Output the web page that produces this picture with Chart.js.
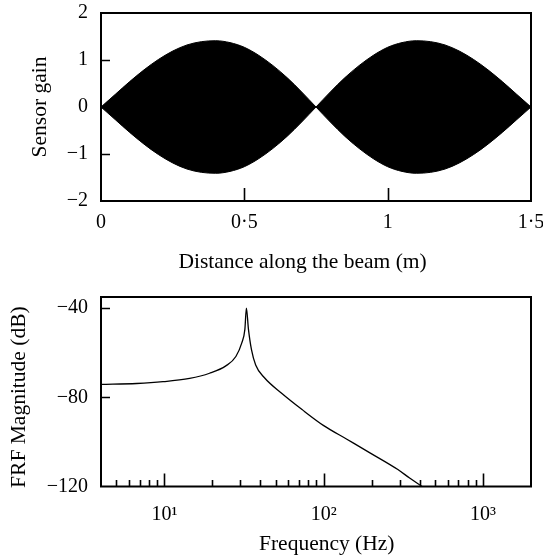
<!DOCTYPE html>
<html>
<head>
<meta charset="utf-8">
<script src="https://cdn.jsdelivr.net/npm/chart.js@4.4.1/dist/chart.umd.min.js"></script>
<style>
  html, body { margin: 0; padding: 0; background: #fff; }
  #wrap { position: relative; width: 543px; height: 557px; }
  canvas { position: absolute; left: 0; display: block; }
  #gainChart { top: 0; }
  #frfChart { top: 280px; }
</style>
</head>
<body>
<div id="wrap">
  <canvas id="gainChart" width="543" height="280"></canvas>
  <canvas id="frfChart" width="543" height="277"></canvas>
</div>
<script>
// Sensor gain envelope along the beam
const distanceM = [0, 0.05, 0.10, 0.15, 0.20, 0.25, 0.30, 0.35, 0.40, 0.45, 0.50, 0.55, 0.60, 0.65, 0.70, 0.75,
                   0.80, 0.85, 0.90, 0.95, 1.00, 1.05, 1.10, 1.15, 1.20, 1.25, 1.30, 1.35, 1.40, 1.45, 1.50];
const gainUpper = [0, 0.27, 0.54, 0.79, 1.01, 1.19, 1.32, 1.39, 1.41, 1.37, 1.27, 1.10, 0.88, 0.62, 0.32, 0,
                   0.32, 0.62, 0.88, 1.10, 1.27, 1.37, 1.41, 1.39, 1.32, 1.19, 1.01, 0.79, 0.54, 0.27, 0];
const gainLower = [0, -0.27, -0.54, -0.79, -1.01, -1.19, -1.32, -1.39, -1.41, -1.37, -1.27, -1.10, -0.88, -0.62, -0.32, 0,
                   -0.32, -0.62, -0.88, -1.10, -1.27, -1.37, -1.41, -1.39, -1.32, -1.19, -1.01, -0.79, -0.54, -0.27, 0];
const distanceTicks = [0, 0.5, 1, 1.5];
const gainTicks = [-2, -1, 0, 1, 2];

// Frequency response function magnitude
const freqHz = [4, 6.7, 9.8, 14.4, 19.2, 24.3, 28.1, 30.6, 32, 32.7, 33.7, 35.2, 37.4, 42.2, 54.9, 73.1,
                100, 139.7, 195, 292, 346, 415];
const frfDb = [-74.2, -73.8, -73.0, -71.5, -69.2, -65.9, -61.7, -55.6, -49.5, -40.0, -49.5, -58.6, -65.5, -71.0, -78.4, -85.5,
               -92.7, -98.8, -104.9, -112.4, -116.2, -120];
const freqTicks = [5, 6, 7, 8, 9, 10, 20, 30, 40, 50, 60, 70, 80, 90, 100,
                   200, 300, 400, 500, 600, 700, 800, 900, 1000];
const freqTickLabels = { 10: '10\u00B9', 100: '10\u00B2', 1000: '10\u00B3' };
const dbTicks = [-120, -80, -40];

const SERIF = "'Liberation Serif', 'Times New Roman', serif";
Chart.defaults.font.family = SERIF;
Chart.defaults.color = '#000';

const tickFont = { family: SERIF, size: 20 };
const titleFont = { family: SERIF, size: 21.5 };

// Closed frame around the plot area with inward-pointing tick marks
const framePlugin = {
  id: 'frame',
  afterDatasetsDraw(chart, args, opts) {
    const { ctx, chartArea: a, scales } = chart;
    ctx.save();
    ctx.strokeStyle = '#000';
    ctx.lineWidth = 1.6;
    ctx.beginPath();
    scales.x.ticks.forEach(t => {
      const px = Math.round(scales.x.getPixelForValue(t.value)) + 0.5;
      if (px <= a.left + 2 || px >= a.right - 2) return;
      const len = t.major ? opts.xMajor : opts.xMinor;
      ctx.moveTo(px, a.bottom);
      ctx.lineTo(px, a.bottom - len);
    });
    scales.y.ticks.forEach(t => {
      const py = Math.round(scales.y.getPixelForValue(t.value)) + 0.5;
      if (py <= a.top + 2 || py >= a.bottom - 2) return;
      ctx.moveTo(a.left, py);
      ctx.lineTo(a.left + opts.yLen, py);
    });
    ctx.stroke();
    ctx.lineWidth = 2;
    ctx.strokeRect(a.left, a.top, a.right - a.left, a.bottom - a.top);
    ctx.restore();
  }
};

const minus = v => String(v).replace('-', '\u2212');

// Fixed axis boxes so the plot area depends only on layout padding
const fixHeight = h => s => { s.height = h; s.paddingLeft = 0; s.paddingRight = 0; };
const fixWidth = w => s => { s.width = w; s.paddingTop = 0; s.paddingBottom = 0; };

function lobe(from, to, values) {
  const pts = [];
  for (let i = from; i <= to; i++) pts.push({ x: distanceM[i], y: values[i] });
  return pts;
}

const lobeStyle = {
  borderColor: '#000',
  backgroundColor: '#000',
  borderWidth: 1,
  pointRadius: 0,
  cubicInterpolationMode: 'monotone'
};

const noGrid = { display: false, drawTicks: false };

new Chart(document.getElementById('gainChart'), {
  type: 'line',
  data: {
    datasets: [
      { ...lobeStyle, data: lobe(0, 15, gainUpper), fill: '+1' },
      { ...lobeStyle, data: lobe(0, 15, gainLower), fill: false },
      { ...lobeStyle, data: lobe(15, 30, gainUpper), fill: '+1' },
      { ...lobeStyle, data: lobe(15, 30, gainLower), fill: false }
    ]
  },
  options: {
    responsive: false,
    animation: false,
    layout: { padding: { top: 13, right: 12, left: 0, bottom: 0 } },
    plugins: {
      legend: { display: false },
      tooltip: { enabled: false },
      frame: { xMajor: 13, xMinor: 13, yLen: 9 }
    },
    scales: {
      x: {
        type: 'linear',
        min: 0, max: 1.5,
        grid: noGrid,
        border: { display: false },
        afterBuildTicks: s => { s.ticks = distanceTicks.map(v => ({ value: v, major: true })); },
        afterFit: fixHeight(79),
        ticks: {
          font: tickFont, padding: 10, maxRotation: 0, autoSkip: false,
          callback: v => String(v).replace('.', '\u00B7')
        },
        // trailing spaces set the title slightly left of the plot centre
        title: { display: true, text: 'Distance along the beam (m)     ', font: titleFont, padding: { top: 0, bottom: 5 } }
      },
      y: {
        min: -2, max: 2,
        grid: noGrid,
        border: { display: false },
        afterBuildTicks: s => { s.ticks = gainTicks.map(v => ({ value: v })); },
        afterFit: fixWidth(101),
        ticks: { font: tickFont, padding: 13, callback: v => minus(v) },
        title: { display: true, text: 'Sensor gain', font: titleFont, padding: { top: 27, bottom: 0 } }
      }
    }
  },
  plugins: [framePlugin]
});

new Chart(document.getElementById('frfChart'), {
  type: 'line',
  data: {
    datasets: [{
      data: freqHz.map((f, i) => ({ x: f, y: frfDb[i] })),
      borderColor: '#000',
      borderWidth: 1.3,
      pointRadius: 0,
      fill: false,
      cubicInterpolationMode: 'monotone'
    }]
  },
  options: {
    responsive: false,
    animation: false,
    layout: { padding: { top: 17, right: 12, left: 0, bottom: 0 } },
    plugins: {
      legend: { display: false },
      tooltip: { enabled: false },
      frame: { xMajor: 13, xMinor: 6.5, yLen: 9 }
    },
    scales: {
      x: {
        type: 'logarithmic',
        min: 4, max: 2000,
        grid: noGrid,
        border: { display: false },
        afterBuildTicks: s => {
          s.ticks = freqTicks.map(v => ({ value: v, major: v in freqTickLabels }));
        },
        afterFit: fixHeight(70.5),
        ticks: {
          font: tickFont, padding: 16.5, maxRotation: 0, autoSkip: false,
          callback: v => freqTickLabels[v] || ''
        },
        // leading spaces set the title slightly right of the plot centre
        title: { display: true, text: '    Frequency (Hz)', font: titleFont, padding: { top: 0, bottom: 0 } }
      },
      y: {
        min: -120, max: -35,
        grid: noGrid,
        border: { display: false },
        afterBuildTicks: s => { s.ticks = dbTicks.map(v => ({ value: v })); },
        afterFit: fixWidth(101),
        ticks: { font: tickFont, padding: 13, callback: v => minus(v) },
        title: { display: true, text: 'FRF Magnitude (dB)  ', font: titleFont, padding: { top: 6.6, bottom: 0 } }
      }
    }
  },
  plugins: [framePlugin]
});
</script>
</body>
</html>
